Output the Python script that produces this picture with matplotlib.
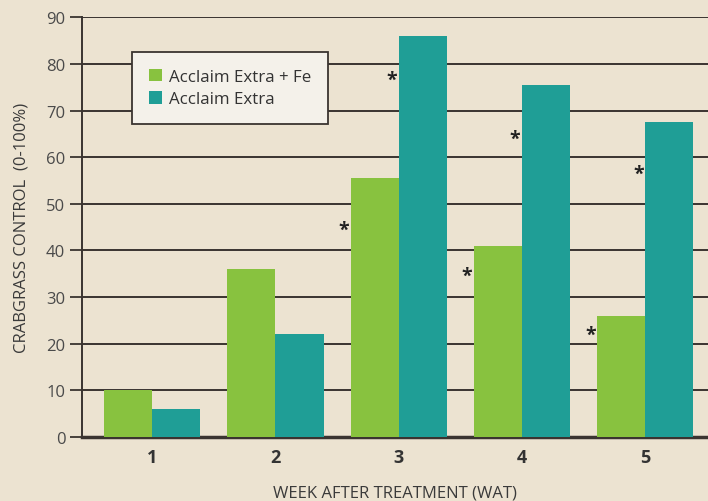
import matplotlib

matplotlib.use("Agg")
import matplotlib.pyplot as plt
import numpy as np

weeks = ["1", "2", "3", "4", "5"]
fe_values = [10, 36, 55.5, 41, 26]
extra_values = [6, 22, 86, 75.5, 67.5]
# heights of the significance asterisks
fe_star_levels = [None, None, 44.5, 34.5, 22]
extra_star_levels = [None, None, 76.5, 64, 56.5]

series_names = ["Acclaim Extra + Fe", "Acclaim Extra"]
y_ticks = [0, 10, 20, 30, 40, 50, 60, 70, 80, 90]

BG = "#ECE3D1"
GREEN = "#88C23F"
TEAL = "#1F9E96"
INK = "#3A3430"

plt.rcParams["font.family"] = ["Open Sans", "DejaVu Sans"]

fig = plt.figure(figsize=(7.08, 5.02), dpi=100)
fig.patch.set_facecolor(BG)
ax = fig.add_axes([82 / 708, 64 / 502, 626 / 708, 419.7 / 502])
ax.set_facecolor(BG)

x = np.arange(1, len(weeks) + 1)
width = 0.39
ax.bar(x - width / 2, fe_values, width, color=GREEN, label=series_names[0], zorder=3)
ax.bar(x + width / 2, extra_values, width, color=TEAL, label=series_names[1], zorder=3)

for xi, lvl in zip(x, fe_star_levels):
    if lvl is not None:
        ax.text(xi - width - 0.055, lvl, "*", ha="center", va="center",
                fontsize=14, fontweight="bold", color="#222222", zorder=4)
for xi, lvl in zip(x, extra_star_levels):
    if lvl is not None:
        ax.text(xi - 0.055, lvl, "*", ha="center", va="center",
                fontsize=14, fontweight="bold", color="#222222", zorder=4)

ax.set_xlim(0.43, 5.51)
ax.set_ylim(0, 90)
ax.set_yticks(y_ticks)
ax.set_xticks(x)
ax.set_xticklabels(weeks, fontsize=13, fontweight="bold", color="#333333")
ax.tick_params(axis="x", length=0, pad=8)
ax.tick_params(axis="y", length=9, width=1.3, color=INK, labelsize=12,
               labelcolor="#4A4A4A", pad=3)
ax.yaxis.grid(True, color=INK, linewidth=1.4, zorder=0)
ax.set_axisbelow(True)

for side in ("top", "right"):
    ax.spines[side].set_visible(False)
ax.spines["left"].set_color(INK)
ax.spines["left"].set_linewidth(1.4)
ax.spines["bottom"].set_color(INK)
ax.spines["bottom"].set_linewidth(2.5)

ax.set_xlabel("WEEK AFTER TREATMENT (WAT)", fontsize=12, color="#3A3A3A", labelpad=13)
ax.set_ylabel("CRABGRASS CONTROL  (0-100%)", fontsize=12, color="#3A3A3A", labelpad=12)

leg = ax.legend(loc="upper left", bbox_to_anchor=(0.08, 0.917), borderaxespad=0,
                fontsize=12.2, frameon=True, fancybox=False, handlelength=0.75,
                handleheight=0.75, handletextpad=0.4, borderpad=1.0, labelspacing=0.35)
leg.get_frame().set_facecolor("#F4F1EA")
leg.get_frame().set_edgecolor(INK)
leg.get_frame().set_linewidth(1.3)
leg.get_frame().set_alpha(1)
leg.set_zorder(5)
for t in leg.get_texts():
    t.set_color("#333333")

fig.savefig("out.png", dpi=100, facecolor=fig.get_facecolor())
